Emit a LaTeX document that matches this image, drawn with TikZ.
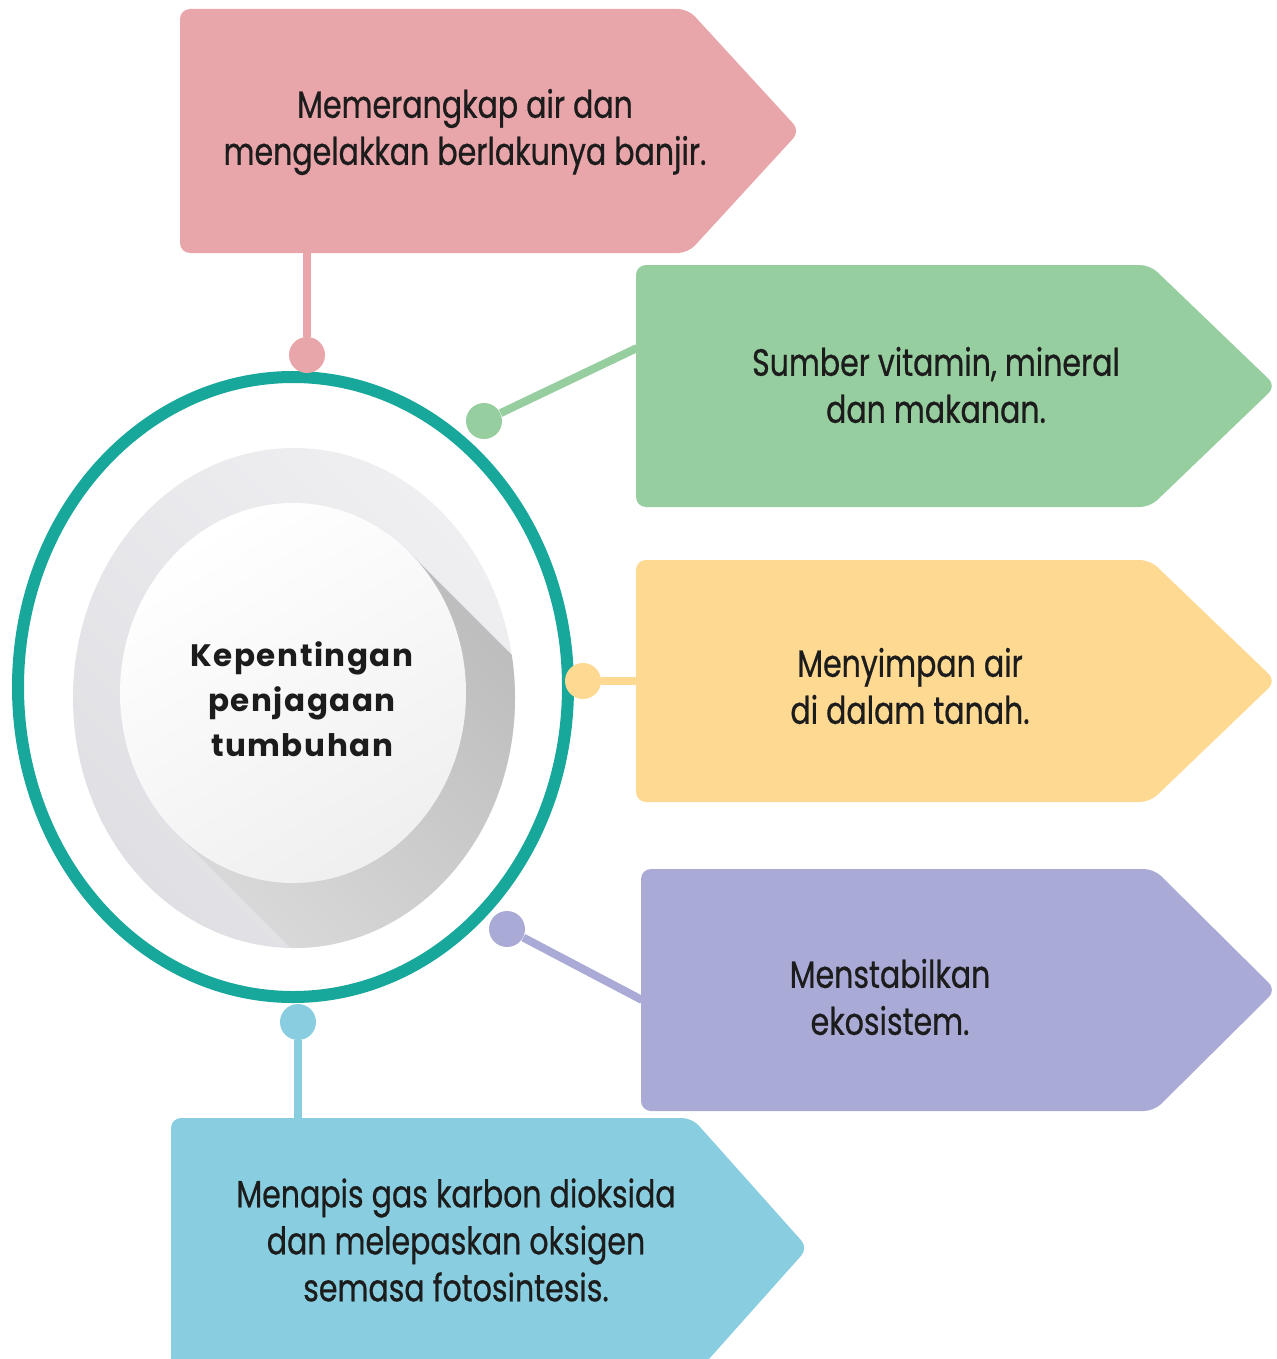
\documentclass[tikz,border=0pt]{standalone}
\usepackage{fontspec}
\setmainfont{Poppins}[FakeStretch=0.79, FakeBold=0.6]
\newfontfamily\titlefont{Poppins}[LetterSpace=5]
\usetikzlibrary{shapes.geometric}
\definecolor{pinkc}{HTML}{E8A5AA}
\definecolor{greenc}{HTML}{97CEA0}
\definecolor{yellowc}{HTML}{FDD992}
\definecolor{purplec}{HTML}{AAAAD6}
\definecolor{bluec}{HTML}{89CEE0}
\definecolor{tealc}{HTML}{17A79B}
\definecolor{txtc}{HTML}{1C1C1C}
\definecolor{greylight}{HTML}{EFEFF2}
\definecolor{greydark}{HTML}{E0E0E4}
\begin{document}
\begin{tikzpicture}[x=0.5pt,y=-0.5pt,
  boxtext/.style={font=\fontsize{19}{23.5}\selectfont, text=txtc, align=center, inner sep=0pt},
  titletext/.style={font=\titlefont\bfseries\fontsize{15.5}{22.5}\selectfont, text=txtc, align=center, inner sep=0pt},
  dot/.style={circle, minimum size=18pt, inner sep=0pt},
  link/.style={line width=4pt},
  arrowshape/.style={rounded corners=5pt}]
\clip (0,0) rectangle (1276,1359);
\fill[white] (0,0) rectangle (1276,1359);

% connector end points on the boxes
\coordinate (pinkB) at (307,253);
\coordinate (greenL) at (637,348);
\coordinate (yellowL) at (637,681);
\coordinate (purpleL) at (642,1000);
\coordinate (blueT) at (298,1119);

% central discs
\shade[top color=greylight, bottom color=greydark, shading angle=-45]
  (294,698) ellipse [x radius=221, y radius=250];
\begin{scope}
  \clip (294,698) ellipse [x radius=221, y radius=250];
  \shade[top color=black!30, bottom color=black!11, shading angle=-45]
    (409.5,552.5) -- (809.5,952.5) -- (576.5,1233.5) -- (176.5,833.5) -- cycle;
\end{scope}
\shade[top color=white, bottom color=black!6, shading angle=30]
  (293,693) ellipse [x radius=173, y radius=190];
\node[titletext] (centre) at (302,699) {Kepentingan\\penjagaan\\tumbuhan};

% ring
\node[ellipse, draw=tealc, line width=6pt, minimum width=275pt, minimum height=310pt, inner sep=0pt] (ring) at (293,687) {};

% dots
\node[dot, fill=pinkc] (dpink) at (307,355) {};
\node[dot, fill=greenc] (dgreen) at (484,421) {};
\node[dot, fill=yellowc] (dyellow) at (583,681) {};
\node[dot, fill=purplec] (dpurple) at (507,929) {};
\node[dot, fill=bluec] (dblue) at (298,1022) {};

% connectors
\draw[link, pinkc] (dpink) -- (pinkB);
\draw[link, greenc] (dgreen) -- (greenL);
\draw[link, yellowc] (dyellow) -- (yellowL);
\draw[link, purplec] (dpurple) -- (purpleL);
\draw[link, bluec] (dblue) -- (blueT);

% boxes
\fill[pinkc, arrowshape] (180,9) -- (688,9) -- (800,131) -- (688,253) -- (180,253) -- cycle;
\fill[greenc, arrowshape] (636,265) -- (1150,265) -- (1276,386) -- (1150,507) -- (636,507) -- cycle;
\fill[yellowc, arrowshape] (636,560) -- (1150,560) -- (1276,681) -- (1150,802) -- (636,802) -- cycle;
\fill[purplec, arrowshape] (641,869) -- (1154,869) -- (1276,990) -- (1154,1111) -- (641,1111) -- cycle;
\fill[bluec, arrowshape] (171,1118) -- (692,1118) -- (808,1248) -- (692,1378) -- (171,1378) -- cycle;

% texts
\node[boxtext] (tpink) at (465,132) {Memerangkap air dan\\mengelakkan berlakunya banjir.};
\node[boxtext] (tgreen) at (936,385) {Sumber vitamin, mineral\\dan makanan.};
\node[boxtext] (tyellow) at (910,686) {Menyimpan air\\di dalam tanah.};
\node[boxtext] (tpurple) at (890,997) {Menstabilkan\\ekosistem.};
\node[boxtext] (tblue) at (456,1240) {Menapis gas karbon dioksida\\dan melepaskan oksigen\\semasa fotosintesis.};
\end{tikzpicture}
\end{document}
